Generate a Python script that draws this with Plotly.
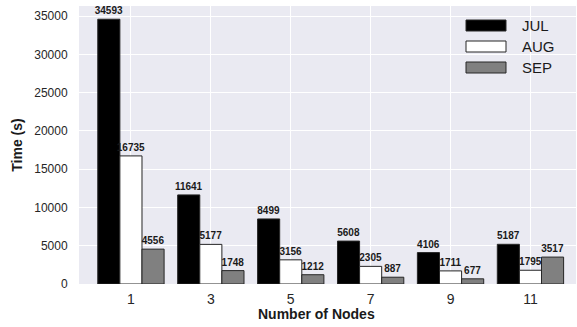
import plotly.graph_objects as go

nodes = ["1", "3", "5", "7", "9", "11"]
jul = [34593, 11641, 8499, 5608, 4106, 5187]
aug = [16735, 5177, 3156, 2305, 1711, 1795]
sep = [4556, 1748, 1212, 887, 677, 3517]

series = [("JUL", jul, "#000000"), ("AUG", aug, "#ffffff"), ("SEP", sep, "#808080")]

FONT = "Liberation Sans, Arial, sans-serif"
pos = list(range(len(nodes)))

fig = go.Figure()
for name, vals, color in series:
    fig.add_trace(go.Bar(
        x=pos, y=vals, name=name,
        marker=dict(color=color, line=dict(color="#262626", width=1)),
        text=[str(v) for v in vals],
        textposition="outside",
        cliponaxis=False,
        constraintext="none",
        textfont=dict(family=FONT, size=10, color="#1a1a1a", weight="bold"),
        showlegend=False,
    ))

# legend drawn as swatches + labels in the upper right
shapes = []
annotations = []
leg_top = [20, 41, 62]
for (name, vals, color), top in zip(series, leg_top):
    shapes.append(dict(type="rect", xref="paper", yref="paper",
                       x0=(466 - 79) / 497, x1=(506 - 79) / 497,
                       y0=1 - (top + 11 - 6) / 278, y1=1 - (top - 6) / 278,
                       fillcolor=color, line=dict(color="#262626", width=1)))
    annotations.append(dict(text=name, xref="paper", yref="paper",
                            x=(520 - 79) / 497, y=1 - (top + 5.5 - 6) / 278,
                            xanchor="left", yanchor="middle", showarrow=False,
                            font=dict(family=FONT, size=15, color="#1a1a1a")))

annotations.append(dict(text="<b>Number of Nodes</b>", xref="paper", yref="paper",
                        x=(316 - 79) / 497, y=-(314 - 284) / 278,
                        xanchor="center", yanchor="middle", showarrow=False,
                        font=dict(family=FONT, size=14, color="#1a1a1a")))

fig.update_layout(
    width=577, height=327,
    margin=dict(l=79, r=1, t=6, b=43),
    paper_bgcolor="white",
    plot_bgcolor="#EAEAF2",
    barmode="group",
    bargap=0.17,
    bargroupgap=0,
    font=dict(family=FONT, color="#262626"),
    shapes=shapes,
    annotations=annotations,
)
fig.update_xaxes(
    tickmode="array", tickvals=pos, ticktext=nodes,
    range=[-0.65, 5.57],
    showgrid=True, gridcolor="white", gridwidth=1,
    zeroline=False, showline=False,
    ticks="outside", ticklen=2, tickcolor="rgba(0,0,0,0)",
    tickfont=dict(family=FONT, size=14, color="#262626"),
)
fig.update_yaxes(
    range=[0, 36322],
    tickmode="array", tickvals=list(range(0, 35001, 5000)),
    ticktext=[str(v) for v in range(0, 35001, 5000)],
    showgrid=True, gridcolor="white", gridwidth=1,
    zeroline=False, showline=False,
    ticks="outside", ticklen=8, tickcolor="rgba(0,0,0,0)",
    tickfont=dict(family=FONT, size=12, color="#262626"),
    title=dict(text="<b>Time (s)</b>", standoff=8,
               font=dict(family=FONT, size=14, color="#1a1a1a")),
)

fig.write_html("out.html")
